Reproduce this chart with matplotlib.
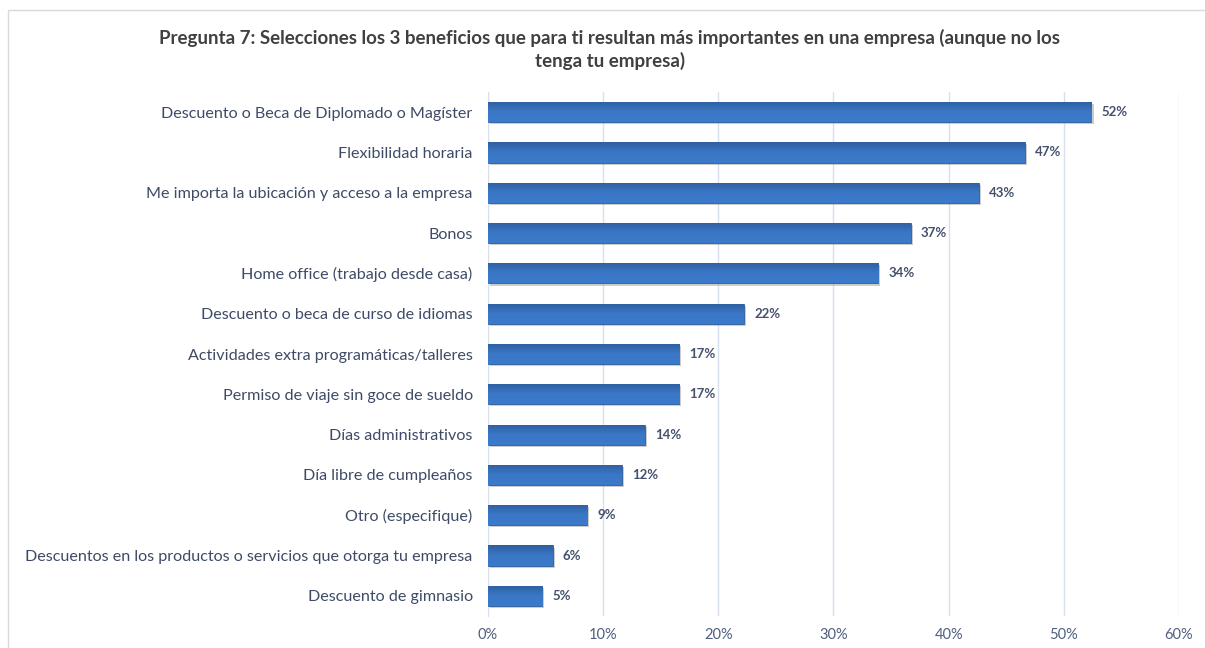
import numpy as np
import matplotlib
matplotlib.use('Agg')
import matplotlib.pyplot as plt
from matplotlib.patches import Rectangle
import matplotlib.patheffects as pe

plt.rcParams['font.family'] = ['Lato', 'DejaVu Sans']

categories = [
    'Descuento o Beca de Diplomado o Magíster',
    'Flexibilidad horaria',
    'Me importa la ubicación y acceso a la empresa',
    'Bonos',
    'Home office (trabajo desde casa)',
    'Descuento o beca de curso de idiomas',
    'Actividades extra programáticas/talleres',
    'Permiso de viaje sin goce de sueldo',
    'Días administrativos',
    'Día libre de cumpleaños',
    'Otro (especifique)',
    'Descuentos en los productos o servicios que otorga tu empresa',
    'Descuento de gimnasio',
]
values = [0.524, 0.466, 0.426, 0.367, 0.339, 0.222, 0.166, 0.166, 0.136, 0.116, 0.086, 0.056, 0.047]
xticks = [0, 0.1, 0.2, 0.3, 0.4, 0.5, 0.6]

title = ('Pregunta 7: Selecciones los 3 beneficios que para ti resultan más importantes en una empresa (aunque no los\n'
         'tenga tu empresa)')

fig = plt.figure(figsize=(12.05, 6.48), dpi=100)
ax = fig.add_axes([0.405, 0.0494, 0.5734, 0.8086])

y = np.arange(len(categories))
bars = ax.barh(y, values, height=0.5, color='#3670BE', edgecolor='#2E5E9E', linewidth=0.6,
               zorder=3)

# vertical gradient + soft shadow like the office chart
grad = np.linspace(0, 1, 64).reshape(-1, 1)
cmap = matplotlib.colors.LinearSegmentedColormap.from_list('g', ['#3B7BCB', '#3A77C6', '#2F5F9F'])
for b in bars:
    b.set_path_effects([pe.SimplePatchShadow(offset=(1.5, -1.5), shadow_rgbFace='#9a9a9a', alpha=0.5),
                        pe.Normal()])
    x0, y0, w, h = b.get_x(), b.get_y(), b.get_width(), b.get_height()
    im = ax.imshow(grad, cmap=cmap, aspect='auto', extent=(x0, x0 + w, y0, y0 + h),
                   origin='upper', zorder=4)
    im.set_clip_path(b)

for v, yy in zip(values, y):
    ax.text(v + 0.009, yy, f'{round(v * 100)}%', va='center', ha='left', fontsize=9.5,
            fontweight='bold', color='#44506C', zorder=5)

ax.set_ylim(len(categories) - 0.5, -0.5)
ax.set_xlim(0, 0.6)
ax.set_yticks(y)
ax.set_yticklabels(categories, fontsize=11.6, color='#3E4A66')
ax.set_xticks(xticks)
ax.set_xticklabels([f'{int(t * 100)}%' for t in xticks], fontsize=10.5, color='#4F5F7F')
ax.tick_params(axis='both', length=0)
ax.tick_params(axis='y', pad=11)
ax.tick_params(axis='x', pad=9)
ax.grid(axis='x', color='#D6E0EE', linewidth=1, zorder=0)
for s in ['top', 'right', 'bottom']:
    ax.spines[s].set_visible(False)
ax.spines['left'].set_color('#D6E0EE')
ax.spines['left'].set_zorder(1)

fig.text(0.506, 0.924, title, ha='center', va='center', fontsize=13.5, fontweight='bold',
         color='#404040', linespacing=1.3)

# outer chart frame
fig.patches.append(Rectangle((8 / 1205, -0.1), 1.2, 0.1 + 1 - 10 / 648, transform=fig.transFigure,
                             fill=False, edgecolor='#D9D9D9', linewidth=1))

fig.savefig('out.png', dpi=100)
